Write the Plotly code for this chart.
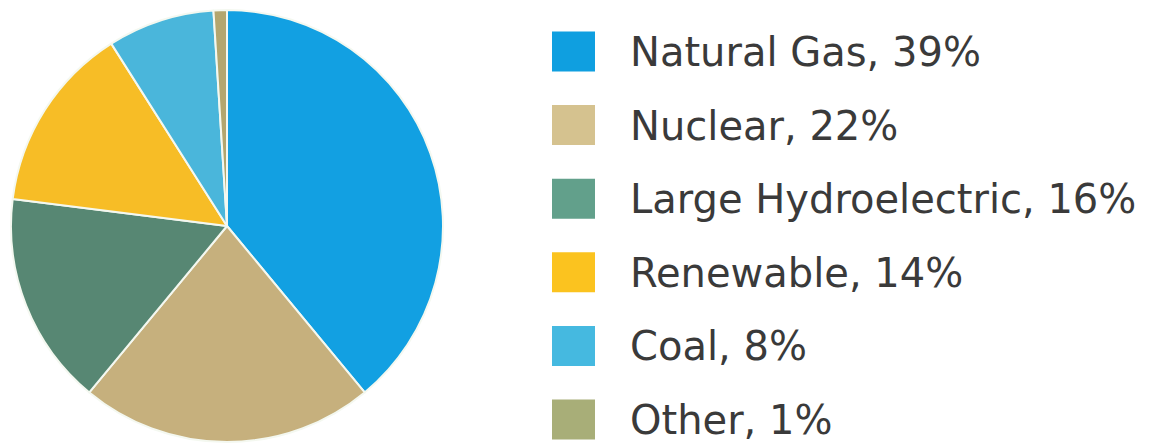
import plotly.graph_objects as go

# Electricity generation mix
sources = ["Natural Gas", "Nuclear", "Large Hydroelectric", "Renewable", "Coal", "Other"]
shares = [39, 22, 16, 14, 8, 1]
slice_colors = ["#12a0e2", "#c6b07d", "#578773", "#f7bd26", "#4ab6db", "#b3a66e"]
key_colors = ["#0f9fe0", "#d5c28f", "#62a08b", "#fbc31f", "#45b9e0", "#a8ae78"]

W, H = 1159, 445

fig = go.Figure(
    go.Pie(
        labels=sources,
        values=shares,
        sort=False,
        direction="clockwise",
        rotation=0,
        marker=dict(colors=slice_colors, line=dict(color="#f4f8f0", width=2)),
        textinfo="none",
        hoverinfo="label+percent",
        showlegend=False,
        domain=dict(x=[11 / W, 443 / W], y=[3 / H, 435 / H]),
    )
)

# Custom key: large swatches with text to the right
row0, step = 51.5, 73.6
shapes, notes = [], []
for i, (name, pct, col) in enumerate(zip(sources, shares, key_colors)):
    cy = row0 + i * step
    shapes.append(dict(
        type="rect", xref="paper", yref="paper",
        x0=552 / W, x1=595 / W, y0=1 - (cy - 20) / H, y1=1 - (cy + 20) / H,
        fillcolor=col, line=dict(width=0), layer="above",
    ))
    notes.append(dict(
        xref="paper", yref="paper", x=628 / W, y=1 - (cy + 0.5) / H,
        xanchor="left", yanchor="middle", showarrow=False,
        text=f"{name}, {pct}%",
        font=dict(family="DejaVu Sans", size=40, color="#3a3a3a"),
    ))

fig.update_layout(
    width=W, height=H,
    margin=dict(l=0, r=0, t=0, b=0),
    paper_bgcolor="white", plot_bgcolor="white",
    shapes=shapes, annotations=notes,
)

fig.write_html("out.html")
